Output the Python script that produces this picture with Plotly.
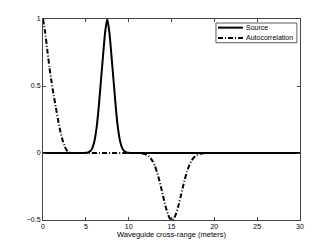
import plotly.graph_objects as go

# Source pulse
src_x = [0, 4.5, 4.75, 5.0, 5.25, 5.5, 5.75, 6.0, 6.25, 6.5, 6.75, 7.0, 7.25, 7.5,
         7.75, 8.0, 8.25, 8.5, 8.75, 9.0, 9.25, 9.5, 9.75, 10.0, 10.25, 10.5, 30]
src_y = [0, 0, 0.0003, 0.0012, 0.0042, 0.0132, 0.0365, 0.088, 0.185, 0.339, 0.53, 0.72, 0.90, 1.0,
         0.90, 0.72, 0.53, 0.339, 0.185, 0.088, 0.0365, 0.0132, 0.0042, 0.0012, 0.0003, 0, 0]

# Autocorrelation
ac_x = [0, 0.25, 0.5, 0.75, 1.0, 1.25, 1.5, 1.75, 2.0, 2.25, 2.5, 2.75, 3.0, 3.25, 3.5,
        11.05, 11.3, 11.55, 11.8, 12.05, 12.3, 12.55, 12.8, 13.05, 13.3, 13.55, 13.8, 14.05,
        14.3, 14.55, 14.8, 15.05, 15.3, 15.55, 15.8, 16.05, 16.3, 16.55, 16.8, 17.05, 17.3,
        17.55, 17.8, 18.05, 18.3, 18.55, 18.8, 19.05, 30]
ac_y = [1.0, 0.90, 0.77, 0.64, 0.53, 0.43, 0.34, 0.25, 0.17, 0.105, 0.055, 0.022, 0.006, 0.0, 0.0,
        0.0, -0.0015, -0.003, -0.006, -0.012, -0.022, -0.038, -0.062, -0.096, -0.141, -0.197, -0.262, -0.331,
        -0.396, -0.451, -0.487, -0.5, -0.487, -0.451, -0.396, -0.331, -0.262, -0.197, -0.141, -0.096, -0.062,
        -0.038, -0.022, -0.012, -0.006, -0.003, -0.0015, 0.0, 0.0]

series_names = ["Source", "Autocorrelation"]
x_ticks = [0, 5, 10, 15, 20, 25, 30]
y_ticks = [-0.5, 0, 0.5, 1]
y_tick_labels = ["\u22120.5", "0", "0.5", "1"]

FONT = "Liberation Sans, Arial, Helvetica"
AC_DASH = "5px,2px,1px,2px"
AXIS_COLOR = "#444"

fig = go.Figure()
fig.add_trace(go.Scatter(x=src_x, y=src_y, mode="lines", name=series_names[0],
                         line=dict(color="black", width=2, shape="spline", smoothing=0.6)))
fig.add_trace(go.Scatter(x=ac_x, y=ac_y, mode="lines", name=series_names[1],
                         line=dict(color="black", width=2, dash=AC_DASH,
                                   shape="spline", smoothing=0.6)))

axis_common = dict(showline=True, linecolor=AXIS_COLOR, linewidth=1, mirror="ticks",
                   ticks="inside", ticklen=3, tickcolor=AXIS_COLOR, showgrid=False,
                   zeroline=False, tickfont=dict(family=FONT, size=7, color="black"))

# Hand-built legend box (MATLAB style, compact)
shapes = [
    dict(type="rect", xref="paper", yref="paper", x0=0.673, x1=0.988, y0=0.882, y1=0.980,
         line=dict(color="#333", width=0.8), fillcolor="white", layer="above"),
    dict(type="line", xref="paper", yref="paper", x0=0.681, x1=0.778, y0=0.957, y1=0.957,
         line=dict(color="black", width=2), layer="above"),
    dict(type="line", xref="paper", yref="paper", x0=0.681, x1=0.778, y0=0.906, y1=0.906,
         line=dict(color="black", width=2, dash=AC_DASH), layer="above"),
]
annotations = [
    dict(xref="paper", yref="paper", x=0.784, y=0.957, text=series_names[0], showarrow=False,
         xanchor="left", yanchor="middle", font=dict(family=FONT, size=7, color="black")),
    dict(xref="paper", yref="paper", x=0.784, y=0.906, text=series_names[1], showarrow=False,
         xanchor="left", yanchor="middle", font=dict(family=FONT, size=7, color="black")),
]

fig.update_layout(
    width=332, height=250,
    margin=dict(l=43, r=32, t=19, b=28),
    paper_bgcolor="white", plot_bgcolor="white",
    font=dict(family=FONT, size=7, color="black"),
    xaxis=dict(range=[0, 30], tickvals=x_ticks,
               title=dict(text="Waveguide cross-range (meters)", standoff=2,
                          font=dict(family=FONT, size=7.5, color="black")), **axis_common),
    yaxis=dict(range=[-0.5, 1], tickvals=y_ticks, ticktext=y_tick_labels, **axis_common),
    shapes=shapes,
    annotations=annotations,
    showlegend=False,
)

fig.write_html("out.html", config={"displayModeBar": False},
               post_script="document.body.style.margin='0';")
